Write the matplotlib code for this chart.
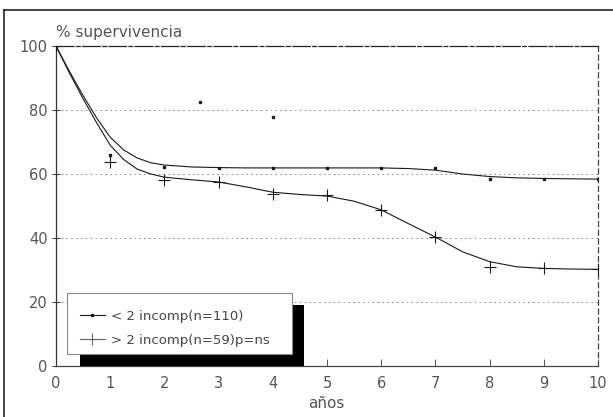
import matplotlib
matplotlib.use("Agg")
import matplotlib.pyplot as plt
from matplotlib.patches import Rectangle
from matplotlib.lines import Line2D

# ---- data ----
years = [0, 1, 2, 3, 4, 5, 6, 7, 8, 9, 10]
lt2_points = [100, 66, 62.3, 62, 62, 62, 62, 61.8, 58.5, 58.4, 58.3]
gt2_points = [100, 63.8, 58, 57.6, 53.9, 53.5, 48.8, 40.4, 30.8, 30.5, 30.2]

curve_x = [0, 0.25, 0.5, 0.75, 1, 1.25, 1.5, 1.75, 2, 2.5, 3, 3.5, 4, 4.5,
           5, 5.5, 6, 6.5, 7, 7.5, 8, 8.5, 9, 9.5, 10]
lt2_curve = [100, 92, 84.5, 77.5, 71.5, 67.5, 65, 63.5, 62.8, 62.2, 62, 61.9,
             61.9, 61.9, 61.9, 61.9, 61.9, 61.7, 61.2, 60, 59.2, 58.8, 58.6,
             58.5, 58.4]
gt2_curve = [100, 91.5, 83.5, 76, 69, 64.5, 61.5, 60, 59, 58.2, 57.5, 56,
             54.3, 53.6, 53.1, 51.5, 48.8, 44.5, 40.3, 35.7, 32.6, 31, 30.5,
             30.3, 30.2]

# stray specks visible in the scanned reference
speck_x = [2.66, 4.0]
speck_y = [82.5, 77.8]

labels = ["< 2 incomp(n=110)", "> 2 incomp(n=59)p=ns"]
xticks = list(range(0, 11))
yticks = [0, 20, 40, 60, 80, 100]

# ---- figure ----
W, H = 613, 417
fig = plt.figure(figsize=(W / 100, H / 100), dpi=100)
ax = fig.add_axes([56 / W, 1 - 366 / H, (598 - 56) / W, (366 - 46) / H])
ax.set_xlim(0, 10)
ax.set_ylim(0, 100)

txtc = "#555555"
linec = "#1a1a1a"

# grid
for y in yticks[1:-1]:
    ax.axhline(y, color="#9a9a9a", lw=0.7, ls=(0, (2, 3)), zorder=0)

# spines
ax.spines["left"].set_color("#333333")
ax.spines["bottom"].set_color("#444444")
ax.spines["top"].set_color("#222222")
ax.spines["top"].set_linestyle((0, (14, 2, 3, 2)))
ax.spines["right"].set_color("#444444")
ax.spines["right"].set_linestyle((0, (4, 3)))
for s in ax.spines.values():
    s.set_linewidth(0.9)

ax.set_xticks(xticks)
ax.set_yticks(yticks)
ax.tick_params(axis="x", direction="in", length=5, width=0.7, color="#555555",
               labelsize=10.5, labelcolor=txtc, pad=7)
ax.tick_params(axis="y", direction="inout", length=6, width=0.7, color="#333333",
               labelsize=10.5, labelcolor=txtc, pad=3)

# curves
ax.plot(curve_x, lt2_curve, color=linec, lw=0.8, zorder=3)
ax.plot(curve_x, gt2_curve, color=linec, lw=0.8, zorder=3)
ax.plot(years, lt2_points, ls="none", marker="s", ms=2.1, color=linec, zorder=4)
ax.plot(years, gt2_points, ls="none", marker="+", ms=9, mew=0.8, color=linec, zorder=4)
ax.plot(speck_x, speck_y, ls="none", marker="s", ms=1.8, color="#222222", zorder=4)

# legend box with black drop shadow
ax.add_patch(Rectangle((0.44, 0), 4.14, 19, facecolor="black", edgecolor="none", zorder=5))
ax.add_patch(Rectangle((0.20, 3.75), 4.15, 19.05, facecolor="white",
                       edgecolor="#888888", lw=0.8, zorder=6))
handles = [Line2D([], [], color=linec, lw=0.8, marker="s", ms=2.0),
           Line2D([], [], color="#666666", lw=0.8, marker="+", ms=9, mew=0.8)]
leg = ax.legend(handles, labels, loc="upper left",
                bbox_to_anchor=(0.44, 17.6), bbox_transform=ax.transData,
                frameon=False, fontsize=9.5, handlelength=1.9, handletextpad=0.45,
                labelspacing=0.85, borderaxespad=0, borderpad=0)
leg.set_zorder(7)
for t in leg.get_texts():
    t.set_color("#444444")

# texts
fig.text(56 / W, 1 - 32 / H, "% supervivencia", fontsize=11, color=txtc,
         ha="left", va="center")
fig.text(326 / W, 1 - 403 / H, "años", fontsize=11, color=txtc,
         ha="center", va="center")

# outer frame (scanned page border)
fig.add_artist(Line2D([4 / W, 4 / W], [0, 1 - 10 / H], transform=fig.transFigure,
                      color="#111111", lw=1.1))
fig.add_artist(Line2D([4 / W, 1], [1 - 10 / H, 1 - 10 / H], transform=fig.transFigure,
                      color="#111111", lw=1.1))

fig.savefig("out.png", dpi=100, facecolor="white")
